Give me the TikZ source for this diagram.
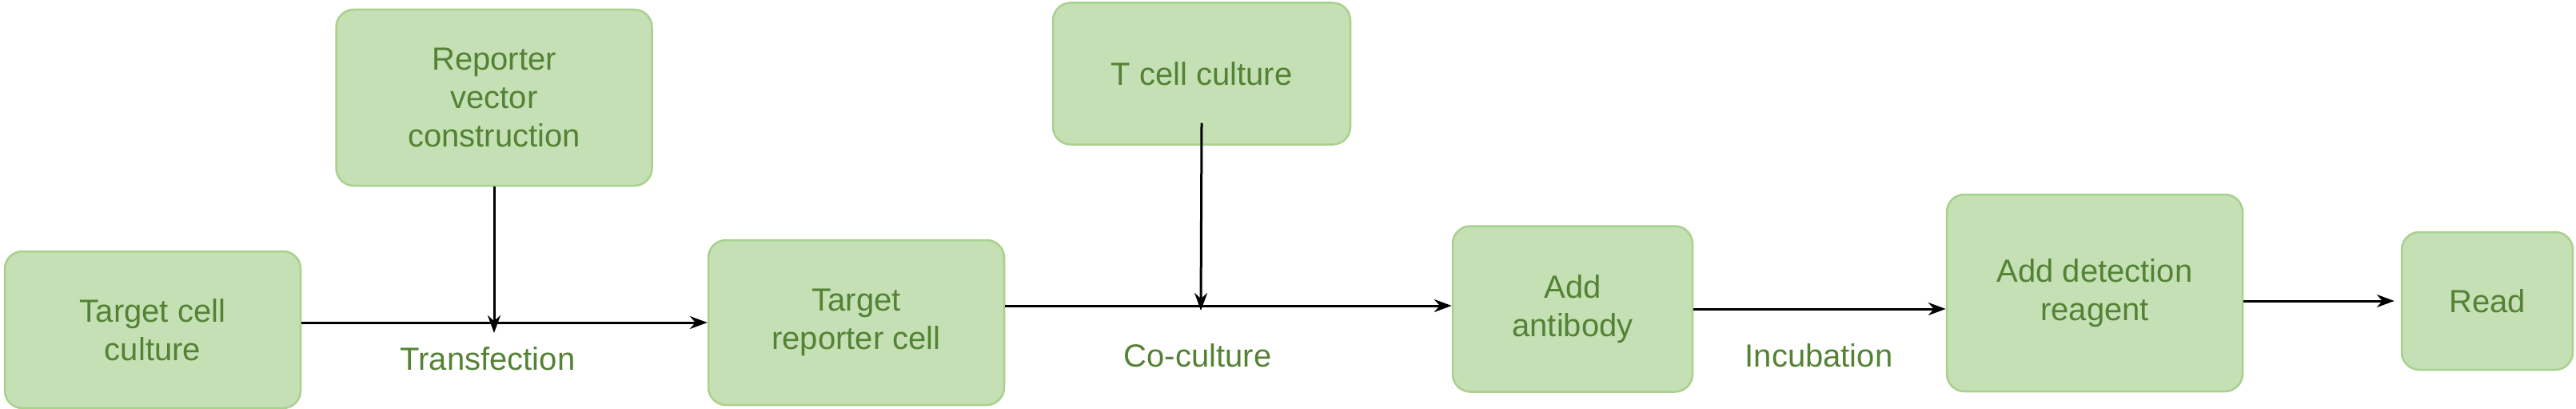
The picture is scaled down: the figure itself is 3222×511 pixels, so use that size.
\documentclass[tikz,border=0pt]{standalone}
\usepackage{fontspec}
\setmainfont{Liberation Sans}
\usetikzlibrary{arrows.meta}
\definecolor{boxfill}{HTML}{C5E0B4}
\definecolor{boxline}{HTML}{A9D18E}
\definecolor{txt}{HTML}{548235}
\tikzset{
  stepbox/.style={draw=boxline, line width=2.5pt, fill=boxfill, rounded corners=22pt,
    text=txt, font=\fontsize{40}{48}\selectfont, align=center, inner sep=0pt},
  arr/.style={-{Stealth[length=22pt,width=16pt]}, line width=3pt, black},
  lbl/.style={text=txt, font=\fontsize{40}{48}\selectfont}
}
\begin{document}
\begin{tikzpicture}[x=1pt,y=-1pt]
\useasboundingbox (0,0) rectangle (3222,511);
\node[stepbox, minimum width=370pt, minimum height=196pt] (tcc) at (191,412) {Target cell\\culture};
\node[stepbox, minimum width=395pt, minimum height=220pt] (rvc) at (618,122) {Reporter\\vector\\construction};
\node[stepbox, minimum width=370pt, minimum height=206pt] (trc) at (1071,403) {Target\\reporter cell};
\node[stepbox, minimum width=372pt, minimum height=177pt] (tc) at (1503,92) {T cell culture};
\node[stepbox, minimum width=300pt, minimum height=207pt] (ab) at (1967,386) {Add\\antibody};
\node[stepbox, minimum width=370pt, minimum height=246pt] (adr) at (2620,366) {Add detection\\reagent};
\node[stepbox, minimum width=214pt, minimum height=172pt] (rd) at (3111,376) {Read};
\coordinate (j1) at (618,403);
\coordinate (j2) at (1502,382);
\draw[line width=3pt] (tcc.east |- j1) -- (j1);
\draw[arr] (tcc.east |- j1) -- (trc.west |- j1);
\draw[arr] (rvc.south) -- ([yshift=-13pt]j1);
\draw[arr] (trc.east |- j2) -- (ab.west |- j2);
\draw[arr] ([yshift=28pt]tc.south) -- ([yshift=-6pt]j2);
\draw[arr] (ab.east |- 0,386) -- (adr.west |- 0,386);
\draw[arr] (adr.east |- 0,376) -- ([xshift=-8pt]rd.west |- 0,376);
\node[lbl] (l1) at (610,448) {Transfection};
\node[lbl] (l2) at (1498,444) {Co-culture};
\node[lbl] (l3) at (2275,444) {Incubation};
\end{tikzpicture}
\end{document}
